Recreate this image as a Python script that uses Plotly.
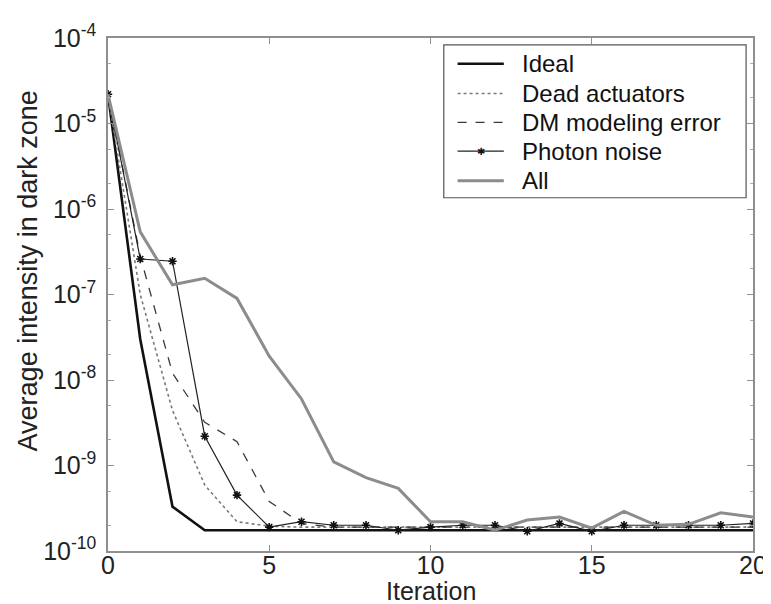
import plotly.graph_objects as go

iterations = list(range(21))
ideal = [2.2e-5, 3.0e-8, 3.3e-10] + [1.75e-10] * 18
dead_actuators = [2.2e-5, 1.0e-7, 4.4e-9, 5.9e-10, 2.2e-10, 1.95e-10] + [1.9e-10] * 15
dm_error = [2.2e-5, 2.8e-7, 1.2e-8, 3.2e-9, 1.9e-9, 3.8e-10, 2.1e-10] + [1.9e-10] * 14
photon_noise = [2.2e-5, 2.6e-7, 2.45e-7, 2.2e-9, 4.5e-10, 1.9e-10, 2.2e-10, 2.0e-10,
                2.0e-10, 1.75e-10, 1.9e-10, 2.0e-10, 2.0e-10, 1.7e-10, 2.1e-10, 1.7e-10,
                2.0e-10, 2.0e-10, 2.0e-10, 2.0e-10, 2.1e-10]
all_errors = [2.2e-5, 5.4e-7, 1.3e-7, 1.55e-7, 9.0e-8, 1.9e-8, 6.0e-9, 1.1e-9,
              7.2e-10, 5.4e-10, 2.2e-10, 2.2e-10, 1.75e-10, 2.3e-10, 2.5e-10, 1.85e-10,
              2.9e-10, 2.0e-10, 2.05e-10, 2.8e-10, 2.5e-10]

series_names = ["Ideal", "Dead actuators", "DM modeling error", "Photon noise", "All"]
series_values = [ideal, dead_actuators, dm_error, photon_noise, all_errors]

y_tickvals = [1e-10, 1e-9, 1e-8, 1e-7, 1e-6, 1e-5, 1e-4]
y_ticktext = ["10<sup>-10</sup>", "10<sup>-9</sup>", "10<sup>-8</sup>", "10<sup>-7</sup>",
              "10<sup>-6</sup>", "10<sup>-5</sup>", "10<sup>-4</sup>"]
x_tickvals = [0, 5, 10, 15, 20]
x_title = "Iteration"
y_title = "Average intensity in dark zone"

# styles per series
line_styles = [
    dict(color="#111111", width=2.6, dash="solid"),
    dict(color="#7a7a7a", width=1.6, dash="dot"),
    dict(color="#3a3a3a", width=1.3, dash="dash"),
    dict(color="#222222", width=1.2, dash="solid"),
    dict(color="#8c8c8c", width=3.0, dash="solid"),
]

fig = go.Figure()
for name, vals, ls in zip(series_names, series_values, line_styles):
    has_marker = name == "Photon noise"
    fig.add_trace(go.Scatter(
        x=iterations, y=vals, name=name,
        mode="lines+markers" if has_marker else "lines",
        line=ls,
        marker=dict(symbol="asterisk", size=7, color="#111111",
                    line=dict(color="#111111", width=1.6)),
        showlegend=False,
    ))

# ---- custom legend (paper coordinates) ----
font_family = "Liberation Sans, Arial, sans-serif"
leg_x0, leg_x1, leg_y0, leg_y1 = 0.5206, 0.9893, 0.6886, 0.9865
sample_x0, sample_x1, text_x = 0.542, 0.6137, 0.638
row_y = [0.9497, 0.8917, 0.8356, 0.7795, 0.7215]

shapes = [dict(type="rect", xref="paper", yref="paper", x0=leg_x0, x1=leg_x1,
               y0=leg_y0, y1=leg_y1, line=dict(color="#555555", width=1.2),
               fillcolor="white", layer="above")]
annotations = []
for name, ls, yy in zip(series_names, line_styles, row_y):
    shapes.append(dict(type="line", xref="paper", yref="paper", x0=sample_x0, x1=sample_x1,
                       y0=yy, y1=yy, line=dict(color=ls["color"], width=ls["width"],
                                               dash=ls["dash"]), layer="above"))
    annotations.append(dict(xref="paper", yref="paper", x=text_x, y=yy, text=name,
                            showarrow=False, xanchor="left", yanchor="middle",
                            font=dict(family=font_family, size=24, color="#111111")))
    if name == "Photon noise":
        annotations.append(dict(xref="paper", yref="paper", x=(sample_x0 + sample_x1) / 2,
                                y=yy, text="✱", showarrow=False, xanchor="center",
                                yanchor="middle",
                                font=dict(family="DejaVu Sans", size=10, color="#111111")))

# axis titles as annotations for exact placement
annotations.append(dict(xref="paper", yref="paper", x=0.5, y=-0.11, text=x_title,
                        showarrow=False, xanchor="center", yanchor="bottom",
                        font=dict(family=font_family, size=25, color="#222222")))
annotations.append(dict(xref="paper", yref="paper", x=-0.124, y=0.545, text=y_title,
                        showarrow=False, xanchor="center", yanchor="middle", textangle=-90,
                        borderpad=0,
                        font=dict(family=font_family, size=27, color="#222222")))

fig.update_layout(
    width=771, height=604,
    margin=dict(l=100, r=16, t=26, b=61),
    paper_bgcolor="white", plot_bgcolor="white",
    font=dict(family=font_family, size=24, color="#222222"),
    showlegend=False,
    shapes=shapes,
    annotations=annotations,
)
fig.update_xaxes(
    range=[0, 20], tickvals=x_tickvals, ticks="inside", ticklen=6,
    showline=True, linecolor="#8f8f8f", linewidth=1.5, mirror="ticks",
    showgrid=False, zeroline=False, tickcolor="#8f8f8f", ticklabelstandoff=-9,
    tickfont=dict(size=25, color="#222222"),
)
fig.update_yaxes(
    type="log", range=[-10, -4], tickvals=y_tickvals, ticktext=y_ticktext,
    ticks="inside", ticklen=6, tickcolor="#8f8f8f",
    showline=True, linecolor="#8f8f8f", linewidth=1.5, mirror="ticks",
    showgrid=False, zeroline=False, ticklabelstandoff=5,
    tickfont=dict(size=25, color="#222222"),
    minor=dict(ticks="inside", ticklen=3, tickcolor="#aaaaaa", showgrid=False),
)

fig.write_html("out.html")
